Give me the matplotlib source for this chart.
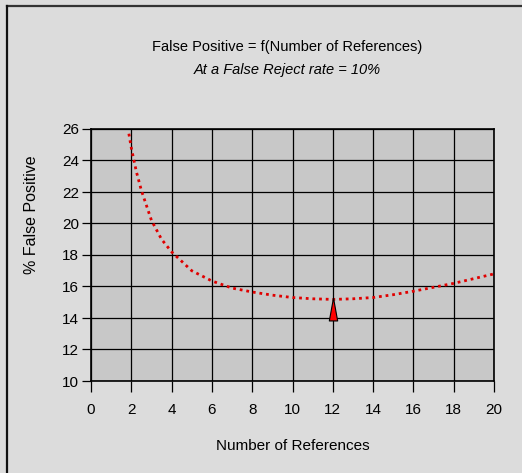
import matplotlib
matplotlib.use("Agg")
import matplotlib.pyplot as plt
from matplotlib.path import Path
from matplotlib.lines import Line2D

# data
n_refs = [1.88, 2.0, 2.25, 2.5, 3.0, 3.5, 4.0, 5.0, 6.0, 7.0, 8.0, 9.0,
          10.0, 11.0, 12.0, 13.0, 14.0, 15.0, 16.0, 17.0, 18.0, 19.0, 20.0]
false_pos = [25.7, 24.8, 23.3, 22.1, 20.2, 19.0, 18.2, 17.0, 16.35, 15.9,
             15.65, 15.45, 15.3, 15.22, 15.18, 15.22, 15.3, 15.48, 15.7,
             15.95, 16.2, 16.5, 16.8]
min_x = [12]
min_y = [14.6]
x_ticks = list(range(0, 21, 2))
y_ticks = list(range(10, 27, 2))

FONT = ["Liberation Sans Narrow", "Liberation Sans", "DejaVu Sans"]
plt.rcParams["font.family"] = FONT

fig = plt.figure(figsize=(5.22, 4.73), dpi=100, facecolor="#dcdcdc")
ax = fig.add_axes([91 / 522, 1 - 381 / 473, 403 / 522, 252 / 473])
ax.set_facecolor("#c8c8c8")

# outer frame: only top and left edges
fig.add_artist(Line2D([7 / 522, 1], [1 - 6 / 473] * 2, color="#333333", lw=1.6))
fig.add_artist(Line2D([7 / 522] * 2, [0, 1 - 6 / 473], color="#111111", lw=1.6))

ax.plot(n_refs, false_pos, color="#e00000", lw=2.0,
        linestyle=(0, (1, 1.4)), zorder=3)

tri = Path([(-4, -11), (4, -11), (0, 11), (-4, -11)],
           [Path.MOVETO, Path.LINETO, Path.LINETO, Path.CLOSEPOLY])
ax.plot(min_x, min_y, marker=tri, markersize=16.5, color="red",
        markeredgecolor="black", markeredgewidth=0.8, ls="none", zorder=4)

ax.set_xlim(0, 20)
ax.set_ylim(10, 26)
ax.set_xticks(x_ticks)
ax.set_yticks(y_ticks)
ax.grid(True, color="black", lw=0.9)
ax.set_axisbelow(True)
for s in ax.spines.values():
    s.set_color("black")
    s.set_linewidth(1.2)
ax.tick_params(axis="x", direction="out", length=8, width=0.9,
               labelsize=11, pad=8)
ax.tick_params(axis="y", direction="out", length=6.5, width=0.9,
               labelsize=11, pad=2)

ax.set_xlabel("Number of References", fontsize=11, labelpad=16)
ax.set_ylabel("% False Positive", fontsize=11.5, family="Liberation Sans")
ax.yaxis.set_label_coords(-0.128, 0.66)

fig.text(287 / 522, 1 - 47 / 473, "False Positive = f(Number of References)",
         ha="center", va="center", fontsize=10.5)
fig.text(287 / 522, 1 - 70 / 473, "At a False Reject rate = 10%",
         ha="center", va="center", fontsize=10.5, style="italic")

fig.savefig("out.png", dpi=100, facecolor=fig.get_facecolor())
